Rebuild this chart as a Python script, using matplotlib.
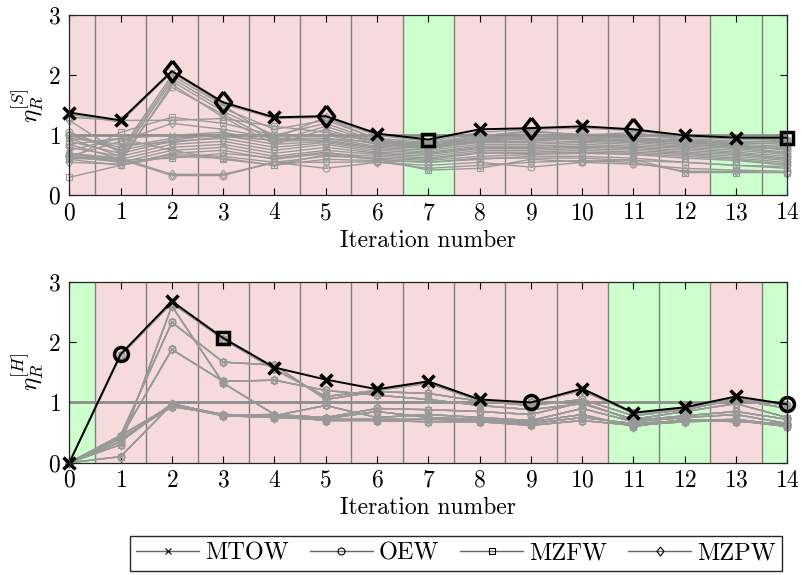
import matplotlib
matplotlib.use('Agg')
import matplotlib.pyplot as plt
from matplotlib.lines import Line2D
import numpy as np

plt.rcParams['font.family'] = 'serif'
plt.rcParams['font.serif'] = ['cmr10']
plt.rcParams['mathtext.fontset'] = 'cm'
plt.rcParams['axes.unicode_minus'] = False
plt.rcParams['axes.formatter.use_mathtext'] = True

# data
iterations = list(range(15))
categories = ['MTOW', 'OEW', 'MZFW', 'MZPW']

# 1 = green band, 0 = red band
top_ok = [0, 0, 0, 0, 0, 0, 0, 1, 0, 0, 0, 0, 0, 1, 1]
bot_ok = [1, 0, 0, 0, 0, 0, 0, 0, 0, 0, 0, 1, 1, 0, 1]

# envelope (black line) and which category gives it
top_max = [1.38, 1.25, 2.07, 1.55, 1.30, 1.32, 1.03, 0.93, 1.10, 1.12, 1.15, 1.10, 1.00, 0.96, 0.96]
top_max_cat = [0, 0, 3, 3, 0, 3, 0, 2, 0, 3, 0, 3, 0, 0, 2]
bot_max = [0.00, 1.80, 2.68, 2.07, 1.58, 1.38, 1.22, 1.35, 1.05, 1.00, 1.23, 0.83, 0.92, 1.10, 0.97]
bot_max_cat = [0, 1, 0, 2, 0, 0, 0, 0, 0, 1, 0, 0, 0, 0, 1]

# gray series, top panel
top_gray = [
    [1.35, 1.22, 2.05, 1.52, 1.28, 1.30, 1.00, 0.90, 1.05, 1.10, 1.12, 1.08, 0.98, 0.93, 0.93],
    [1.25, 0.70, 1.95, 1.45, 1.10, 1.25, 0.95, 0.88, 1.00, 1.05, 1.02, 1.00, 0.95, 0.90, 0.90],
    [1.00, 0.75, 2.00, 1.50, 0.95, 1.30, 0.92, 0.85, 0.98, 1.08, 1.00, 1.05, 0.92, 0.88, 0.85],
    [0.95, 0.65, 1.90, 1.40, 1.00, 1.20, 0.90, 0.82, 0.95, 1.00, 0.98, 0.95, 0.90, 0.85, 0.82],
    [0.85, 0.60, 1.80, 1.35, 0.90, 1.15, 0.88, 0.80, 0.92, 0.98, 0.95, 0.92, 0.88, 0.82, 0.80],
    [0.70, 0.55, 1.85, 1.30, 0.85, 1.10, 0.85, 0.78, 0.90, 0.95, 0.92, 0.90, 0.85, 0.80, 0.78],
    [1.30, 1.25, 1.25, 1.28, 1.15, 1.05, 0.90, 0.85, 0.95, 0.92, 0.98, 0.95, 0.88, 0.84, 0.75],
    [0.60, 1.05, 1.30, 1.20, 1.00, 1.00, 0.85, 0.80, 0.90, 0.90, 0.95, 0.90, 0.85, 0.80, 0.72],
    [0.65, 0.90, 1.20, 1.10, 0.95, 0.95, 0.82, 0.78, 0.88, 0.88, 0.90, 0.88, 0.82, 0.78, 0.70],
    [0.75, 0.95, 1.00, 1.05, 0.90, 0.92, 0.80, 0.75, 0.85, 0.85, 0.88, 0.85, 0.80, 0.75, 0.68],
    [1.00, 0.80, 0.95, 1.00, 0.85, 0.90, 0.78, 0.72, 0.82, 0.82, 0.85, 0.82, 0.78, 0.72, 0.65],
    [0.90, 0.70, 0.90, 0.95, 0.80, 0.88, 0.75, 0.70, 0.80, 0.80, 0.82, 0.80, 0.75, 0.70, 0.62],
    [0.80, 0.65, 0.85, 0.90, 0.75, 0.85, 0.72, 0.68, 0.78, 0.78, 0.80, 0.78, 0.72, 0.68, 0.60],
    [0.70, 0.60, 0.80, 0.85, 0.70, 0.80, 0.70, 0.65, 0.75, 0.75, 0.78, 0.75, 0.70, 0.65, 0.58],
    [0.65, 0.55, 0.75, 0.80, 0.65, 0.75, 0.68, 0.62, 0.72, 0.72, 0.75, 0.72, 0.68, 0.62, 0.55],
    [0.60, 0.50, 0.70, 0.75, 0.60, 0.70, 0.65, 0.60, 0.70, 0.70, 0.72, 0.70, 0.65, 0.60, 0.52],
    [0.55, 0.52, 0.68, 0.65, 0.55, 0.65, 0.62, 0.58, 0.65, 0.68, 0.70, 0.68, 0.62, 0.58, 0.50],
    [0.30, 0.50, 0.65, 0.62, 0.50, 0.60, 0.58, 0.55, 0.60, 0.65, 0.65, 0.62, 0.55, 0.50, 0.45],
    [0.65, 0.60, 0.33, 0.33, 0.55, 0.45, 0.55, 0.50, 0.55, 0.47, 0.55, 0.52, 0.45, 0.42, 0.40],
    [0.70, 0.62, 0.35, 0.35, 0.55, 0.55, 0.56, 0.45, 0.50, 0.55, 0.58, 0.55, 0.40, 0.40, 0.38],
    [0.85, 0.95, 0.75, 0.60, 0.50, 0.68, 0.60, 0.42, 0.45, 0.60, 0.56, 0.60, 0.38, 0.38, 0.38],
    [0.95, 0.85, 0.88, 0.98, 0.92, 0.95, 0.88, 0.82, 0.92, 0.95, 0.95, 0.92, 0.90, 0.86, 0.88],
    [1.05, 0.75, 0.92, 1.02, 0.98, 1.00, 0.92, 0.86, 0.96, 0.98, 0.98, 0.96, 0.92, 0.88, 0.92],
    [0.62, 0.58, 0.62, 0.70, 0.62, 0.72, 0.60, 0.55, 0.62, 0.62, 0.62, 0.58, 0.55, 0.50, 0.48],
]
top_gray_cat = [0, 3, 3, 2, 1, 0, 1, 2, 3, 0, 1, 2, 3, 0, 1, 2, 3, 2, 1, 3, 2, 0, 1, 2]

# gray series, bottom panel (all four quantities overlap)
bot_gray = [
    [0, 1.78, 2.65, 2.05, 1.55, 1.10, 1.20, 1.32, 1.03, 1.00, 1.20, 0.82, 0.90, 1.08, 0.95],
    [0, 0.45, 2.33, 1.67, 1.62, 1.05, 1.18, 1.15, 1.02, 0.95, 1.05, 0.78, 0.88, 1.05, 0.90],
    [0, 0.42, 1.88, 1.35, 1.37, 1.20, 1.12, 1.05, 0.95, 0.88, 0.98, 0.72, 0.85, 0.98, 0.75],
    [0, 0.30, 2.60, 1.32, 0.80, 0.75, 0.90, 0.88, 0.85, 0.80, 1.00, 0.70, 0.78, 0.85, 0.72],
    [0, 0.10, 0.97, 0.80, 0.78, 0.95, 0.75, 0.80, 0.75, 0.70, 0.90, 0.68, 0.75, 0.80, 0.65],
    [0, 0.45, 0.95, 0.78, 0.75, 0.72, 0.72, 0.72, 0.70, 0.65, 0.75, 0.65, 0.70, 0.72, 0.62],
    [0, 0.40, 0.93, 0.80, 0.78, 0.70, 0.70, 0.68, 0.68, 0.62, 0.70, 0.62, 0.68, 0.70, 0.60],
    [0, 0.35, 0.98, 0.79, 0.80, 0.73, 0.85, 0.75, 0.72, 0.68, 0.80, 0.60, 0.72, 0.68, 0.65],
]

red = (0.965, 0.855, 0.863)
green = (0.80, 1.0, 0.80)
diamond = [(0, 1), (0.78, 0), (0, -1), (-0.78, 0), (0, 1)]
markers = ['x', 'o', 's', diamond]
gray_ms = [4.5, 5, 4.5, 6.5]
big_ms = [9, 10, 9, 15]


def draw(ax, ok, gray, gray_cat, env, env_cat, ylab):
    for i, g in zip(iterations, ok):
        ax.axvspan(i - 0.5, i + 0.5, color=green if g else red, lw=0, zorder=0)
    for i in iterations[:-1]:
        ax.axvline(i + 0.5, color='0.5', lw=1, zorder=1)
    ax.axhline(1, color='0.55', lw=2, zorder=2)
    for k, s in enumerate(gray):
        cats = [gray_cat[k]] if gray_cat is not None else [0, 1, 2, 3]
        for c in cats:
            ax.plot(iterations, s, color='0.6', lw=1, marker=markers[c], ms=gray_ms[c],
                    mfc='none', mew=0.8, zorder=3, clip_on=False)
    ax.plot(iterations, env, color='k', lw=1.4, zorder=4)
    for c in range(4):
        xs = [iterations[i] for i in iterations if env_cat[i] == c]
        ys = [env[i] for i in iterations if env_cat[i] == c]
        if xs:
            ax.plot(xs, ys, ls='none', marker=markers[c], ms=big_ms[c], mfc='none',
                    mec='k', mew=2.5, zorder=5, clip_on=False)
    ax.set_xlim(0, 14)
    ax.set_ylim(0, 3)
    ax.set_xticks(iterations)
    ax.set_yticks([0, 1, 2, 3])
    ax.tick_params(direction='in', top=True, right=True, length=5, labelsize=17, width=0.8)
    ax.tick_params(axis='x', pad=5)
    ax.tick_params(axis='y', pad=6)
    ax.set_xlabel('Iteration number', fontsize=17, labelpad=4)
    ax.set_ylabel(ylab, fontsize=18, labelpad=2)
    for sp in ax.spines.values():
        sp.set_color('0.15')
        sp.set_linewidth(0.9)
        sp.set_zorder(6)


fig = plt.figure(figsize=(8.02, 5.75), dpi=100)
ax1 = fig.add_axes([0.0864, 0.6603, 0.8953, 0.3130])
ax2 = fig.add_axes([0.0864, 0.1953, 0.8953, 0.3143])

draw(ax1, top_ok, top_gray, top_gray_cat, top_max, top_max_cat, r'$\eta_R^{[S]}$')
draw(ax2, bot_ok, bot_gray, None, bot_max, bot_max_cat, r'$\eta_R^{[H]}$')

handles = [Line2D([], [], color='0.4', lw=1, marker=markers[c], ms=gray_ms[c], mfc='none',
                  mec='k', mew=0.8) for c in range(4)]
fig.legend(handles, categories, loc='center', bbox_to_anchor=(456 / 802, 1 - 553.5 / 575),
           ncol=4, fontsize=17.5, frameon=True, fancybox=False, edgecolor='0.15',
           handlelength=2.6, handletextpad=0.25, columnspacing=0.85, borderpad=0.25,
           borderaxespad=0.2, framealpha=1)

fig.savefig('out.png', dpi=100)
